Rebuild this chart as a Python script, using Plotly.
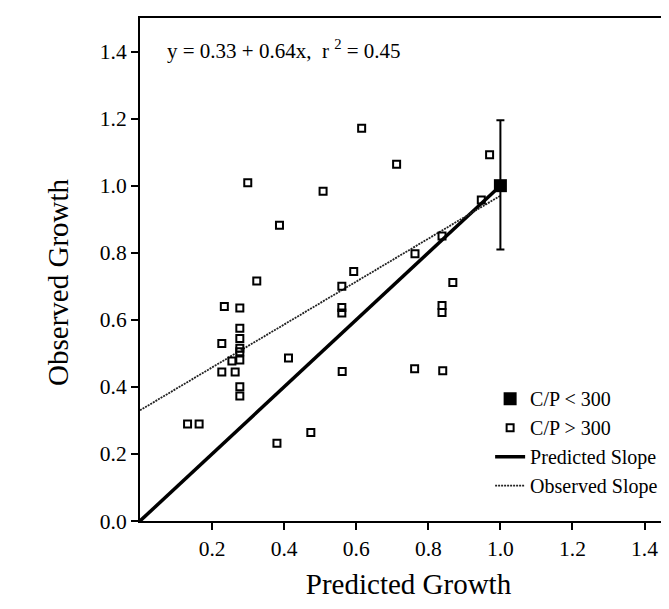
import plotly.graph_objects as go

# ---- data ----
# C/P > 300 : individual observations (predicted growth, observed growth)
open_x = [0.324, 0.234, 0.277, 0.277, 0.277, 0.277, 0.277, 0.277, 0.255, 0.227,
          0.227, 0.264, 0.277, 0.277, 0.132, 0.164, 0.380, 0.474, 0.412, 0.561,
          0.560, 0.593, 0.560, 0.560, 0.299, 0.387, 0.508, 0.615, 0.712, 0.970,
          0.947, 0.838, 0.763, 0.868, 0.838, 0.838, 0.762, 0.840]
open_y = [0.716, 0.640, 0.635, 0.575, 0.544, 0.515, 0.505, 0.480, 0.477, 0.529,
          0.444, 0.444, 0.400, 0.373, 0.289, 0.289, 0.232, 0.264, 0.486, 0.446,
          0.700, 0.744, 0.637, 0.620, 1.009, 0.882, 0.983, 1.171, 1.064, 1.092,
          0.957, 0.850, 0.797, 0.711, 0.643, 0.622, 0.454, 0.448]

# C/P < 300 : mean with error bar
filled_x = [1.0]
filled_y = [1.0]
filled_err_plus = [0.195]
filled_err_minus = [0.19]

# Predicted slope (1:1)
pred_x = [0.0, 1.0]
pred_y = [0.0, 1.0]

# Observed regression: y = 0.33 + 0.64x
obs_intercept = 0.33
obs_slope = 0.64
obs_x = [0.0, 1.0]
obs_y = [obs_intercept + obs_slope * v for v in obs_x]

x_ticks = [0.2, 0.4, 0.6, 0.8, 1.0, 1.2, 1.4]
y_ticks = [0.0, 0.2, 0.4, 0.6, 0.8, 1.0, 1.2, 1.4]

equation_text = "y = 0.33 + 0.64x,\u00a0\u00a0r\u00a0<sup>2</sup> = 0.45"
x_title = "Predicted Growth"
y_title = "Observed Growth"

FONT = "Liberation Serif, Times New Roman, serif"

fig = go.Figure()

fig.add_trace(go.Scatter(
    x=pred_x, y=pred_y, mode="lines", name="Predicted Slope",
    line=dict(color="black", width=3.5), legendrank=3))

fig.add_trace(go.Scatter(
    x=obs_x, y=obs_y, mode="lines", name="Observed Slope",
    line=dict(color="#222222", width=1.8, dash="2px,1px"), legendrank=4))

fig.add_trace(go.Scatter(
    x=open_x, y=open_y, mode="markers", name="C/P > 300",
    marker=dict(symbol="square-open", size=7, color="black",
                line=dict(color="black", width=2)), legendrank=2))

fig.add_trace(go.Scatter(
    x=filled_x, y=filled_y, mode="markers", name="C/P < 300",
    marker=dict(symbol="square", size=13, color="black"),
    error_y=dict(type="data", array=filled_err_plus, arrayminus=filled_err_minus,
                 color="black", thickness=2, width=4),
    legendrank=1))

fig.add_annotation(
    text=equation_text, xref="paper", yref="paper", x=0.046, y=0.937,
    xanchor="left", yanchor="middle", showarrow=False,
    font=dict(family=FONT, size=21, color="black"))

fig.add_annotation(
    text=y_title, xref="paper", yref="paper", x=-0.153, y=0.475,
    xanchor="center", yanchor="middle", textangle=-90, showarrow=False,
    font=dict(family=FONT, size=29, color="black"))

fig.update_layout(
    width=669, height=609,
    margin=dict(l=132, r=0, t=10, b=96),
    paper_bgcolor="white", plot_bgcolor="white",
    font=dict(family=FONT, size=21, color="black"),
    showlegend=True,
    legend=dict(x=0.652, y=0.282, xanchor="left", yanchor="top",
                bgcolor="rgba(0,0,0,0)", font=dict(family=FONT, size=20, color="black"),
                tracegroupgap=0, itemwidth=30),
    xaxis=dict(range=[0, 1.49], tickvals=x_ticks, tickformat=".1f",
               showline=True, linecolor="black", linewidth=2, mirror=True,
               ticks="outside", ticklen=7, tickwidth=1.5, tickcolor="black",
               showgrid=False, zeroline=False, automargin=False,
               tickfont=dict(family=FONT, size=21.5, color="black"),
               title=dict(text=x_title, standoff=14,
                          font=dict(family=FONT, size=29, color="black"))),
    yaxis=dict(range=[0, 1.5], tickvals=y_ticks, tickformat=".1f",
               showline=True, linecolor="black", linewidth=2, mirror=False,
               ticks="outside", ticklen=7, tickwidth=1.5, tickcolor="black",
               showgrid=False, zeroline=False, automargin=False,
               tickfont=dict(family=FONT, size=21.5, color="black")),
)

fig.write_html("out.html")
